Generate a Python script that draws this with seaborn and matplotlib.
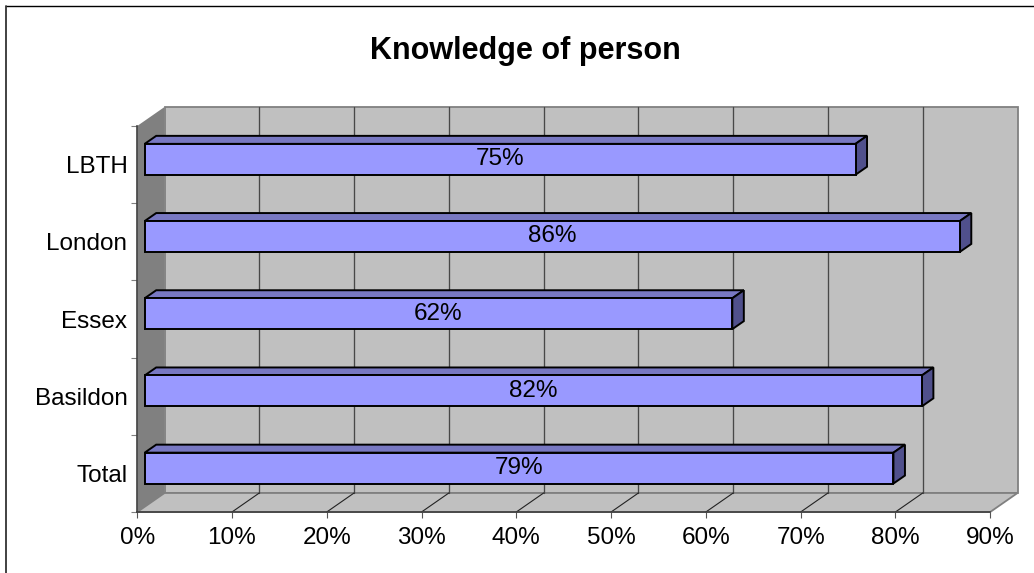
import numpy as np
import pandas as pd
import matplotlib
matplotlib.use("Agg")
import matplotlib.pyplot as plt
from matplotlib.lines import Line2D
from matplotlib.patches import Polygon
import seaborn as sns

# chart data
places = ["LBTH", "London", "Essex", "Basildon", "Total"]
knowledge = [75, 86, 62, 82, 79]
x_ticks = [0, 10, 20, 30, 40, 50, 60, 70, 80, 90]

W, H = 1034, 573
sns.set_theme(style="white")
plt.rcParams["font.family"] = ["Liberation Sans", "DejaVu Sans"]

fig = plt.figure(figsize=(W / 100, H / 100), dpi=100)
ax = fig.add_axes([137.2 / W, 1 - 512 / H, 853 / W, 386 / H])
df = pd.DataFrame({"place": places, "knowledge": knowledge})
sns.barplot(data=df, x="knowledge", y="place", orient="h", color="#9999FF",
            saturation=1, width=0.4, edgecolor="black", linewidth=1.4, ax=ax, zorder=5)
ax.set_xlim(0, 90)
ax.set_ylim(4.5, -0.5)
ax.set_xlabel("")
ax.set_ylabel("")

# pixel sizes of the fake 3d box, turned into data units
px_x = 90 / 853
px_y = 5 / 386
wall_dx, wall_dy = 27.3 * px_x, 19 * px_y
bar_dx, bar_dy = 7.5 * px_x, 5.3 * px_y
deep_dx, deep_dy = 11.5 * px_x, 8 * px_y

top, bottom = -0.5, 4.5
xmax = x_ticks[-1]


def face(pts, fc, ec="none", lw=0.0, z=1):
    ax.add_patch(Polygon(pts, closed=True, facecolor=fc, edgecolor=ec, linewidth=lw,
                         clip_on=False, zorder=z, joinstyle="miter"))


# back wall, side wall, floor
face([(wall_dx, top - wall_dy), (xmax + wall_dx, top - wall_dy),
      (xmax + wall_dx, bottom - wall_dy), (wall_dx, bottom - wall_dy)],
     "#C0C0C0", "#808080", 1.3, 1)
face([(0, top), (wall_dx, top - wall_dy), (wall_dx, bottom - wall_dy), (0, bottom)],
     "#808080", z=2)
face([(0, bottom), (wall_dx, bottom - wall_dy), (xmax + wall_dx, bottom - wall_dy),
      (xmax, bottom)], "#C0C0C0", "#808080", 1.3, 2)

# grid lines on the wall and floor
for t in x_ticks[1:-1]:
    ax.plot([t + wall_dx, t + wall_dx], [top - wall_dy, bottom - wall_dy],
            color="#484848", lw=0.95, clip_on=False, zorder=3)
    ax.plot([t, t + wall_dx], [bottom, bottom - wall_dy],
            color="#222222", lw=0.8, clip_on=False, zorder=3)

# move the bars into the box and give them a top and an end face
for p in ax.containers[0]:
    p.set_x(p.get_x() + bar_dx)
    p.set_y(p.get_y() - bar_dy)
    x0, y0 = p.get_x(), p.get_y()
    x1, y1 = x0 + p.get_width(), y0 + p.get_height()
    face([(x0, y0), (x0 + deep_dx, y0 - deep_dy), (x1 + deep_dx, y0 - deep_dy), (x1, y0)],
         "#7878C2", "black", 1.4, 4)
    face([(x1, y0), (x1 + deep_dx, y0 - deep_dy), (x1 + deep_dx, y1 - deep_dy), (x1, y1)],
         "#50508C", "black", 1.4, 4)

ax.bar_label(ax.containers[0], fmt="%g%%", label_type="center", fontsize=17.5,
             color="black", zorder=6)

# axes lines and ticks
sns.despine(ax=ax, top=True, right=True)
for side in ["left", "bottom"]:
    ax.spines[side].set_color("#404040")
    ax.spines[side].set_linewidth(1.2)
    ax.spines[side].set_zorder(4)
ax.set_xticks(x_ticks)
ax.set_xticklabels([f"{t}%" for t in x_ticks])
ax.set_yticks(np.arange(len(places)))
ax.set_yticklabels(places)
ax.set_yticks(np.arange(len(places) + 1) - 0.5, minor=True)
ax.tick_params(axis="x", which="major", bottom=True, length=4.5, width=0.8, color="#555555",
               labelsize=17.5, labelcolor="black", pad=6)
ax.tick_params(axis="y", which="major", left=False, length=0, labelsize=17.5,
               labelcolor="black", pad=7)
ax.tick_params(axis="y", which="minor", left=True, length=4.5, width=0.8, color="#808080")

fig.text(525.5 / W, 1 - 50.5 / H, "Knowledge of person", fontsize=22, fontweight="bold",
         color="black", ha="center", va="center")

# chart frame, only the top and left edges show in the picture
fig.add_artist(Line2D([5.8 / W, 1], [1 - 6.2 / H, 1 - 6.2 / H], transform=fig.transFigure,
                      color="black", lw=1.0))
fig.add_artist(Line2D([5.8 / W, 5.8 / W], [0, 1 - 6.2 / H], transform=fig.transFigure,
                      color="#333333", lw=1.3))

fig.savefig("out.png", dpi=100)
